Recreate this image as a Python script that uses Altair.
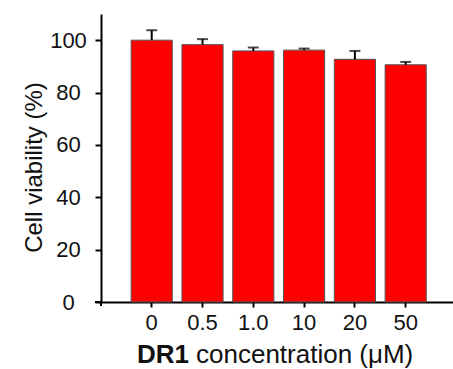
import altair as alt
import pandas as pd

categories = ["0", "0.5", "1.0", "10", "20", "50"]
viability = [100.0, 98.3, 95.9, 96.2, 92.7, 90.6]
errors = [3.8, 2.1, 1.3, 0.6, 3.2, 1.1]
y_ticks = [0, 20, 40, 60, 80, 100]

df = pd.DataFrame({"conc": categories, "v": viability, "e": errors})
df["upper"] = df["v"] + df["e"]

FONT = "Liberation Sans"
W, H = 352, 288

x_enc = alt.X(
    "conc:N",
    sort=categories,
    scale=alt.Scale(paddingInner=0.19, paddingOuter=0.56, align=0.53),
    axis=alt.Axis(
        title=None,
        labelFont=FONT,
        labelFontSize=22,
        labelColor="#111111",
        labelAngle=0,
        labelBaseline="alphabetic",
        labelPadding=22,
        tickSize=5,
        tickWidth=2,
        tickColor="black",
        domainColor="black",
        domainWidth=2,
        grid=False,
    ),
)

y_scale = alt.Scale(domain=[0, 110], nice=False, zero=True)

bars = alt.Chart(df).mark_bar(color="#ff0000", stroke="#555555", strokeWidth=1).encode(
    x=x_enc,
    y=alt.Y(
        "v:Q",
        scale=y_scale,
        axis=alt.Axis(
            values=y_ticks,
            title="Cell viability (%)",
            titleFont=FONT,
            titleFontSize=24,
            titleFontWeight="normal",
            titleColor="#111111",
            titleX=-60,
            titleY=153,
            titleAngle=-90,
            titleBaseline="alphabetic",
            titleAlign="center",
            labelFont=FONT,
            labelFontSize=22,
            labelColor="#111111",
            labelAlign="center",
            labelBaseline="middle",
            labelPadding=27,
            tickSize=6,
            tickWidth=2,
            tickColor="black",
            domainColor="black",
            domainWidth=2,
            grid=False,
        ),
    ),
)

err = alt.Chart(df).mark_rule(color="black", strokeWidth=2).encode(
    x=alt.X("conc:N", sort=categories),
    y=alt.Y("v:Q", scale=y_scale),
    y2="upper:Q",
)

caps = alt.Chart(df).mark_tick(color="black", size=11, thickness=2).encode(
    x=alt.X("conc:N", sort=categories),
    y=alt.Y("upper:Q", scale=y_scale),
)

title_df = pd.DataFrame({"a": [0]})
t1 = alt.Chart(title_df).mark_text(
    text="DR1", font=FONT, fontSize=26, fontWeight="bold", align="left",
    baseline="alphabetic", color="#111111",
).encode(x=alt.value(36), y=alt.value(349))
t2 = alt.Chart(title_df).mark_text(
    text="concentration (μM)", font=FONT, fontSize=26, fontWeight="normal",
    align="left", baseline="alphabetic", color="#111111",
).encode(x=alt.value(95), y=alt.value(349))

# small axis overhangs at the corner
ext_x = alt.Chart(title_df).mark_rule(color="black", strokeWidth=2).encode(
    x=alt.value(-6), x2=alt.value(0), y=alt.value(H)
)
ext_y = alt.Chart(title_df).mark_rule(color="black", strokeWidth=2).encode(
    x=alt.value(0), y=alt.value(H), y2=alt.value(H + 4)
)

chart = (
    alt.layer(bars, err, caps, t1, t2, ext_x, ext_y)
    .properties(
        width=W,
        height=H,
        background="white",
        autosize=alt.AutoSizeParams(type="none"),
        padding={"left": 101, "top": 14, "right": 0, "bottom": 67},
    )
    .configure_view(strokeWidth=0, stroke=None)
)

chart.save("out.html", embed_options={"renderer": "svg", "actions": False})
